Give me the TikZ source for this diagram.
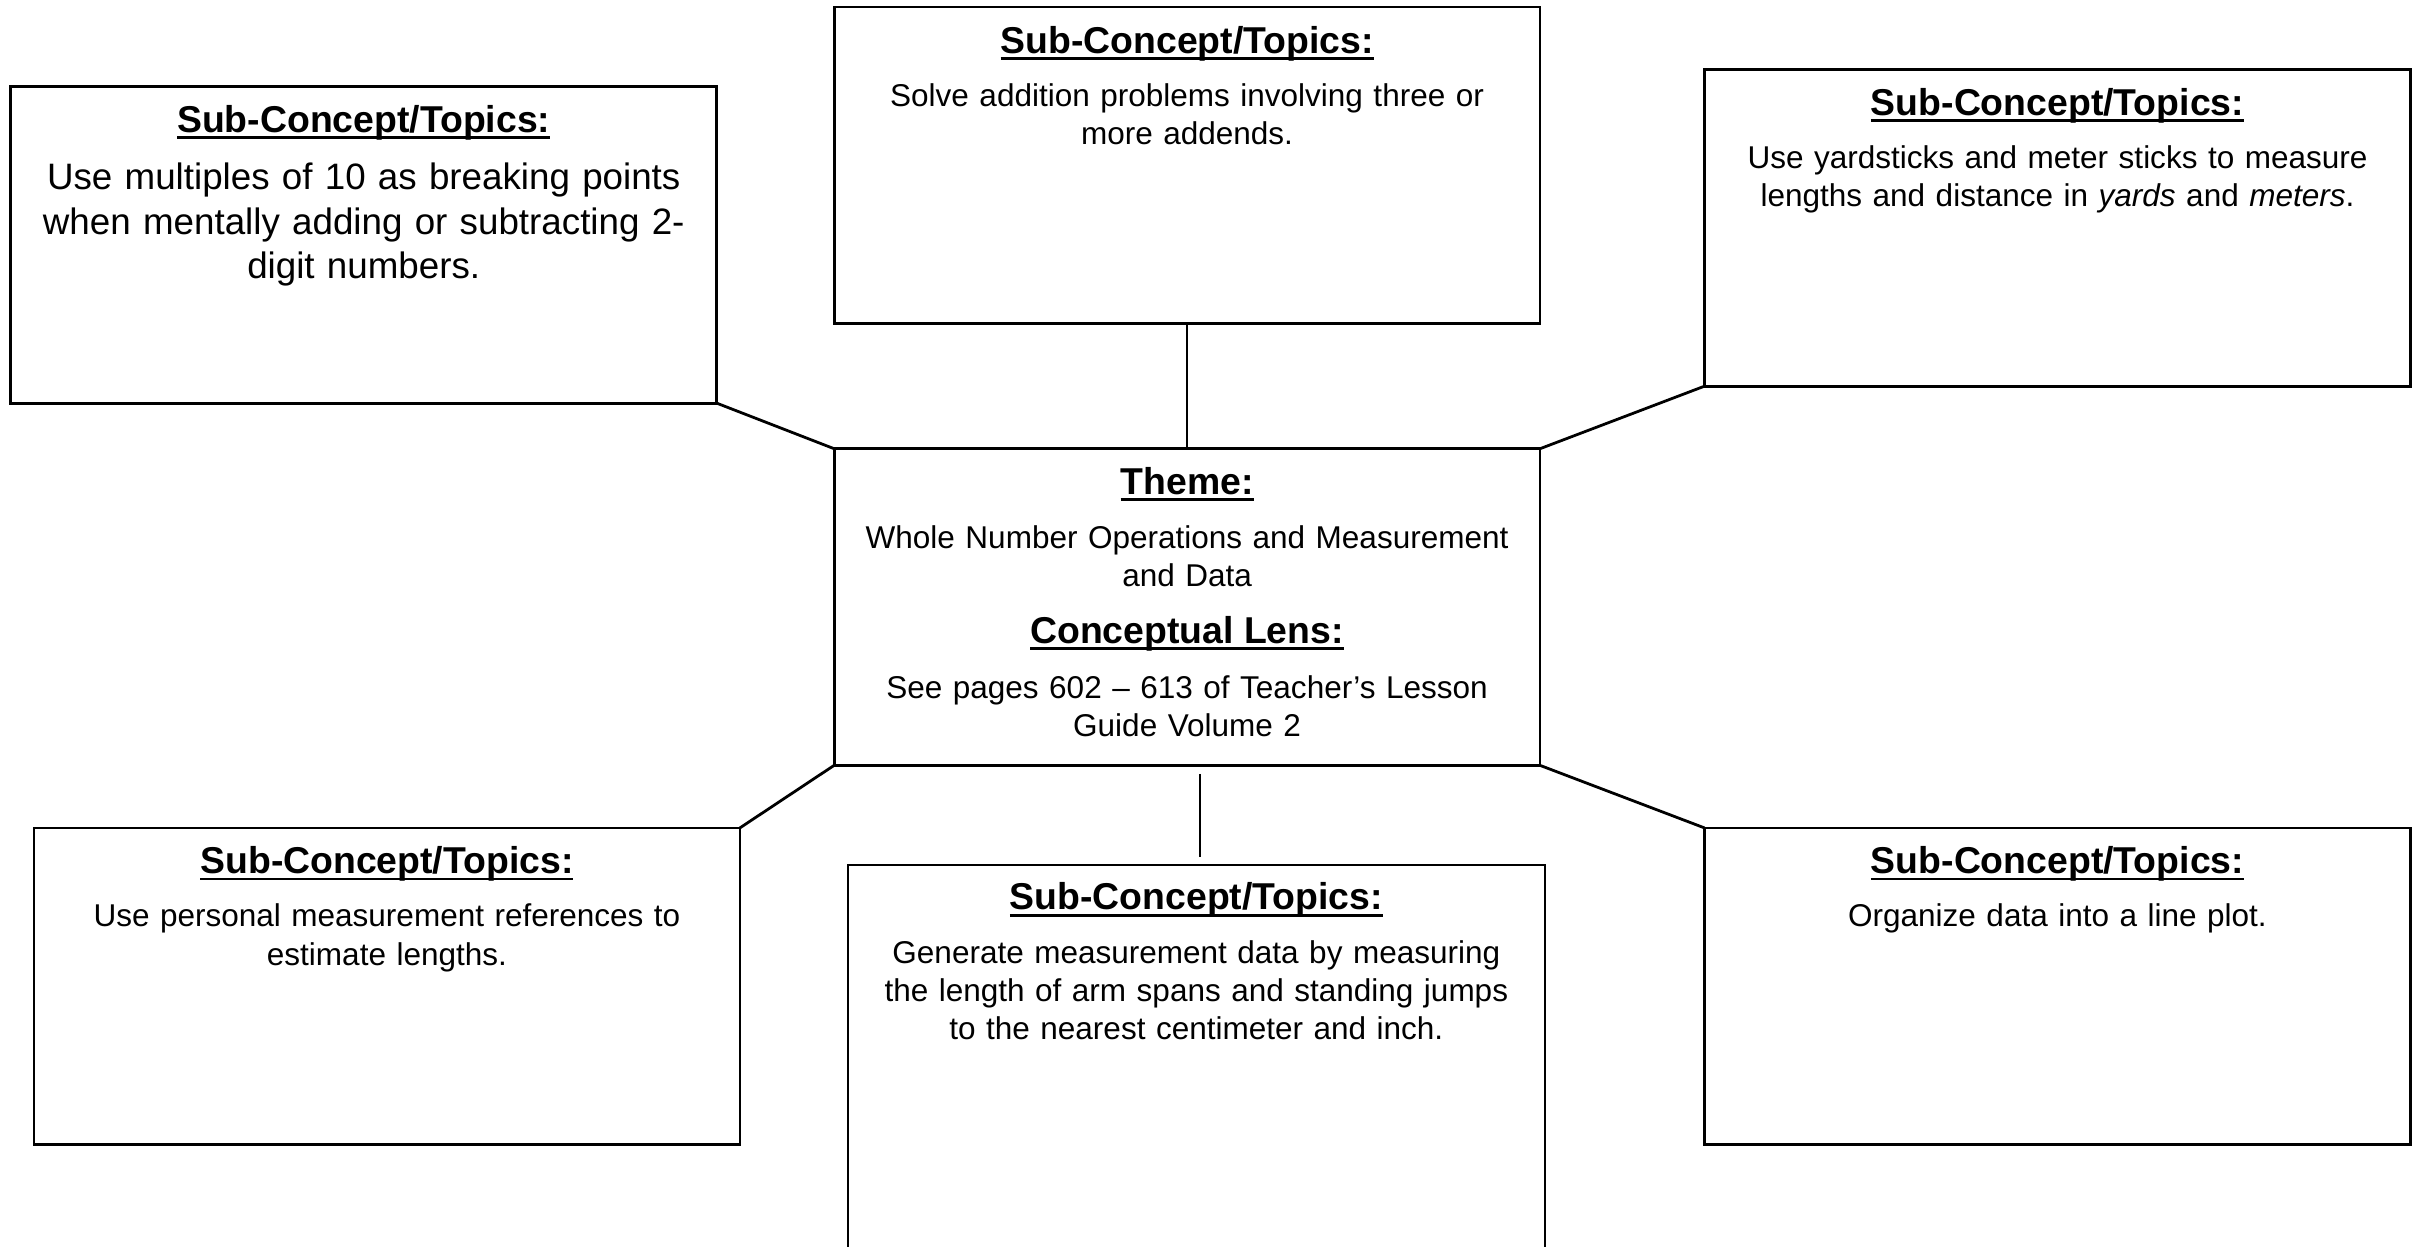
\documentclass[tikz,border=0pt]{standalone}
\usepackage{fontspec}
\setmainfont{Liberation Sans}
% underlined bold heading with a rule at a fixed depth
\newcommand\headul[1]{\setbox0\hbox{#1}\rlap{\rule[-2.2pt]{\wd0}{0.9pt}}\box0}
\begin{document}
\begin{tikzpicture}[x=0.5pt,y=-0.5pt,
  panel/.style={draw=black,line width=0.9pt,inner sep=0pt,outer sep=0pt,
    minimum width=228.5pt,minimum height=102.5pt},
  thinpanel/.style={draw=black,line width=0.6pt,inner sep=0pt,outer sep=0pt,
    minimum width=225.5pt,minimum height=135pt},
  link/.style={draw=black,line width=0.9pt},
  heading/.style={anchor=base,inner sep=0pt,font=\fontsize{12.1}{14}\selectfont\bfseries},
  body/.style={anchor=base,inner sep=0pt,align=center,text width=226pt,
    font=\fontsize{10.2}{12.4}\selectfont},
  bigbody/.style={anchor=base,inner sep=0pt,align=center,text width=226pt,
    font=\fontsize{11.9}{14.3}\selectfont}]
\clip (0,0) rectangle (1568,807);
\fill[white] (0,0) rectangle (1568,807);

% boxes
\node[panel] (tl) at (235.5,158.5) {};
\node[panel] (tc) at (768.5,107) {};
\node[panel] (tr) at (1332,147.5) {};
\node[panel] (c)  at (768.5,393) {};
\node[panel] (bl) at (250.5,638.5) {};
\node[thinpanel] (bc) at (774.5,695) {};
\node[panel] (br) at (1332,638.5) {};

% connectors
\draw[link] (tl.south east) -- (c.north west);
\draw[link] (tc.south) -- (c.north);
\draw[link] (tr.south west) -- (c.north east);
\draw[link] (c.south west) -- (bl.north east);
\draw[link] (c.south east) -- (br.north west);
\coordinate (s1) at (777,501);
\coordinate (s2) at (777,555);
\draw[line width=0.55pt] (s1) -- (s2);

% top left
\node[heading] (tlh) at (235.5,85.5) {\headul{Sub-Concept/Topics:}};
\node[bigbody] (tlb) at (235.5,123) {Use multiples of 10 as breaking points\\
  when mentally adding or subtracting 2-\\digit numbers.};

% top centre
\node[heading] (tch) at (768.5,34.5) {\headul{Sub-Concept/Topics:}};
\node[body] (tcb) at (768.5,69) {Solve addition problems involving three or\\more addends.};

% top right
\node[heading] (trh) at (1332,74.5) {\headul{Sub-Concept/Topics:}};
\node[body] (trb) at (1332,109) {Use yardsticks and meter sticks to measure\\
  lengths and distance in \textit{yards} and \textit{meters}.};

% centre
\node[heading] (ch1) at (768.5,320) {\headul{Theme:}};
\node[body] (cb1) at (768.5,355) {Whole Number Operations and Measurement\\and Data};
\node[heading] (ch2) at (768.5,416.5) {\headul{Conceptual Lens:}};
\node[body] (cb2) at (768.5,452) {See pages 602 -- 613 of Teacher’s Lesson\\Guide Volume 2};

% bottom left
\node[heading] (blh) at (250.5,565.5) {\headul{Sub-Concept/Topics:}};
\node[body] (blb) at (250.5,600) {Use personal measurement references to\\estimate lengths.};

% bottom centre
\node[heading] (bch) at (774.5,589) {\headul{Sub-Concept/Topics:}};
\node[body] (bcb) at (774.5,623.5) {Generate measurement data by measuring\\
  the length of arm spans and standing jumps\\to the nearest centimeter and inch.};

% bottom right
\node[heading] (brh) at (1332,565.5) {\headul{Sub-Concept/Topics:}};
\node[body] (brb) at (1332,600) {Organize data into a line plot.};
\end{tikzpicture}
\end{document}
